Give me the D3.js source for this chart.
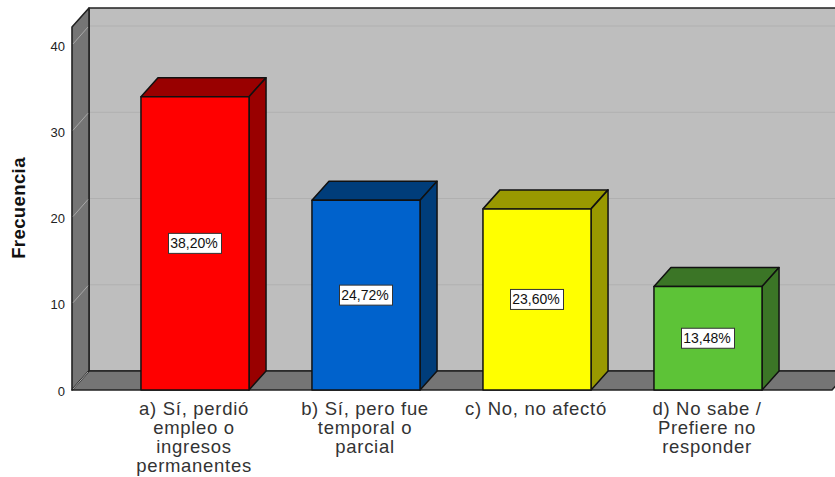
<!DOCTYPE html>
<html>
<head>
<meta charset="utf-8">
<script src="https://cdn.jsdelivr.net/npm/d3@7"></script>
<style>
html, body { margin: 0; padding: 0; background: #fff; overflow: hidden; }
text { font-family: "Liberation Sans", Arial, sans-serif; }
</style>
</head>
<body>
<div id="chart"></div>
<script>
// Data
var categories = ["a", "b", "c", "d"];
var categoryLabels = [
    ["a) Sí, perdió", "empleo o", "ingresos", "permanentes"],
    ["b) Sí, pero fue", "temporal o", "parcial"],
    ["c) No, no afectó"],
    ["d) No sabe /", "Prefiere no", "responder"]
];
var frecuencia = [34, 22, 21, 12];
var porcentajes = ["38,20%", "24,72%", "23,60%", "13,48%"];
var yTicks = [0, 10, 20, 30, 40];
var frontColors = ["#ff0000", "#0062cc", "#ffff00", "#5dc337"];
var darkColors = ["#990000", "#003d7a", "#999900", "#3b7526"];

var width = 835, height = 477;
var depthX = 17, depthY = 19;  // oblique offset of the 3d box
var plotLeft = 72, plotRight = 832, plotBottom = 390, plotTop = 27;

var svg = d3.select("#chart").append("svg")
    .attr("width", width)
    .attr("height", height)
    .style("display", "block");

var x = d3.scaleBand()
    .domain(categories)
    .range([109.5, 793.5])
    .paddingInner(0.368)
    .paddingOuter(0.184);

var y = d3.scaleLinear()
    .domain([0, 40])
    .range([plotBottom, 45]);

function poly(pts) {
    return d3.line()(pts) + "Z";
}

// Walls of the box
var box = svg.append("g").attr("stroke", "#222").attr("stroke-width", 1.6).attr("stroke-linejoin", "round");
box.append("path")
    .attr("d", poly([[plotLeft + depthX, plotTop - depthY], [plotRight + depthX, plotTop - depthY], [plotRight + depthX, plotBottom - depthY], [plotLeft + depthX, plotBottom - depthY]]))
    .attr("fill", "#bebebe");
box.append("path")
    .attr("d", poly([[plotLeft, plotTop], [plotLeft + depthX, plotTop - depthY], [plotLeft + depthX, plotBottom - depthY], [plotLeft, plotBottom]]))
    .attr("fill", "#757575");
box.append("path")
    .attr("d", poly([[plotLeft, plotBottom], [plotLeft + depthX, plotBottom - depthY], [plotRight + depthX, plotBottom - depthY], [plotRight, plotBottom]]))
    .attr("fill", "#757575");

// Grid lines go along the side wall and then the back wall
var grid = svg.append("g").attr("fill", "none").attr("stroke-width", 1);
grid.selectAll("path.back")
    .data(yTicks.slice(1))
    .enter().append("path")
    .attr("class", "back")
    .attr("stroke", "#b0b0b0")
    .attr("d", function (d) {
        return d3.line()([[plotLeft + depthX + 1, y(d) - depthY], [plotRight + depthX, y(d) - depthY]]);
    });
grid.selectAll("path.side")
    .data(yTicks)
    .enter().append("path")
    .attr("class", "side")
    .attr("stroke", "#a8a8a8")
    .attr("d", function (d) {
        return d3.line()([[plotLeft + 1, y(d) - 1], [plotLeft + depthX - 1, y(d) - depthY + 1]]);
    });

// Y axis, only the numbers are visible
var yAxis = svg.append("g")
    .attr("transform", "translate(" + plotLeft + ",0)")
    .call(d3.axisLeft(y).tickValues(yTicks).tickSize(0).tickPadding(7));
yAxis.select(".domain").remove();
yAxis.selectAll("text")
    .style("font-size", "13px")
    .style("font-family", "'Liberation Sans', Arial, sans-serif")
    .attr("fill", "#222")
    .attr("dy", "0.4em");

svg.append("text")
    .attr("transform", "translate(25,208) rotate(-90)")
    .attr("text-anchor", "middle")
    .style("font-size", "18.5px")
    .style("font-weight", "bold")
    .style("letter-spacing", "0.4px")
    .attr("fill", "#111")
    .text("Frecuencia");

// Bars
var bars = svg.selectAll("g.bar")
    .data(categories)
    .enter().append("g")
    .attr("class", "bar")
    .attr("stroke", "#111")
    .attr("stroke-width", 1.5)
    .attr("stroke-linejoin", "round");

bars.append("path")
    .attr("fill", function (d, i) { return darkColors[i]; })
    .attr("d", function (d, i) {
        var x0 = x(d), x1 = x0 + x.bandwidth(), t = y(frecuencia[i]);
        return poly([[x0, t], [x0 + depthX, t - depthY], [x1 + depthX, t - depthY], [x1, t]]);
    });
bars.append("path")
    .attr("fill", function (d, i) { return darkColors[i]; })
    .attr("d", function (d, i) {
        var x1 = x(d) + x.bandwidth(), t = y(frecuencia[i]);
        return poly([[x1, t], [x1 + depthX, t - depthY], [x1 + depthX, plotBottom - depthY], [x1, plotBottom]]);
    });
bars.append("rect")
    .attr("fill", function (d, i) { return frontColors[i]; })
    .attr("x", function (d) { return x(d); })
    .attr("y", function (d, i) { return y(frecuencia[i]); })
    .attr("width", x.bandwidth())
    .attr("height", function (d, i) { return plotBottom - y(frecuencia[i]); });

// Percentage labels in the middle of each bar
var labels = svg.selectAll("g.pct")
    .data(categories)
    .enter().append("g")
    .attr("class", "pct")
    .attr("transform", function (d, i) {
        return "translate(" + (x(d) + x.bandwidth() / 2 + 0.5) + "," + ((y(frecuencia[i]) + plotBottom) / 2) + ")";
    });
labels.append("rect")
    .attr("x", -27)
    .attr("y", -10)
    .attr("width", 53)
    .attr("height", 20)
    .attr("fill", "#fff")
    .attr("stroke", "#333")
    .attr("stroke-width", 1);
labels.append("text")
    .attr("text-anchor", "middle")
    .attr("y", 5)
    .style("font-size", "14px")
    .attr("fill", "#111")
    .attr("x", -1.5)
    .text(function (d, i) { return porcentajes[i]; });

// Category labels, wrapped by hand like the original
var catText = svg.selectAll("text.cat")
    .data(categories)
    .enter().append("text")
    .attr("class", "cat")
    .attr("text-anchor", "middle")
    .style("font-size", "18.5px")
    .style("letter-spacing", "0.7px")
    .attr("fill", "#333");
catText.selectAll("tspan")
    .data(function (d, i) {
        return categoryLabels[i].map(function (line) { return { line: line, cat: d }; });
    })
    .enter().append("tspan")
    .attr("x", function (d) { return x(d.cat) + x.bandwidth() / 2 - 1; })
    .attr("y", function (d, i) { return 415 + i * 19; })
    .text(function (d) { return d.line; });
</script>
</body>
</html>
